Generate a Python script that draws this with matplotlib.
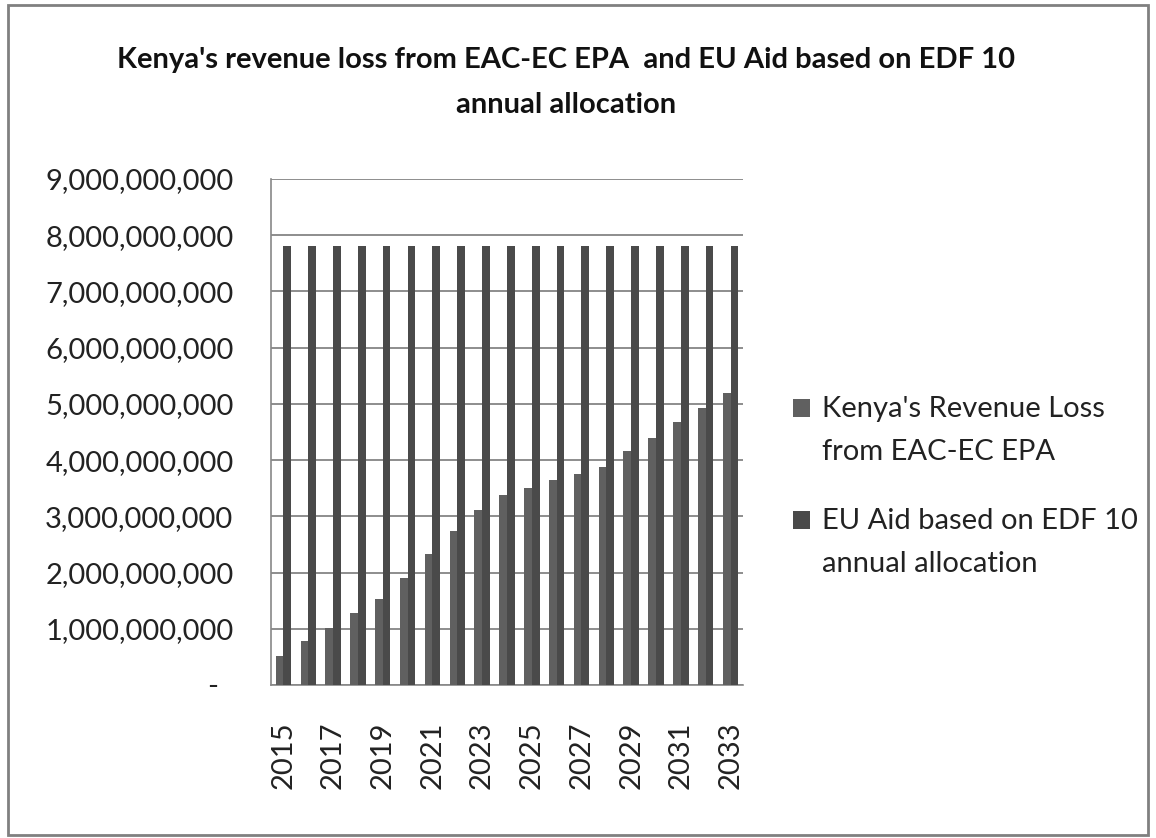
import matplotlib.pyplot as plt
from matplotlib.patches import Rectangle
from matplotlib.ticker import FuncFormatter

# Data
years = [str(y) for y in range(2015, 2034)]
revenue_loss = [0.51e9, 0.79e9, 1.01e9, 1.28e9, 1.53e9, 1.91e9, 2.33e9, 2.74e9,
                3.11e9, 3.38e9, 3.50e9, 3.64e9, 3.75e9, 3.88e9, 4.17e9, 4.40e9,
                4.68e9, 4.92e9, 5.20e9]
eu_aid = [7.8e9] * 19

loss_label = "Kenya's Revenue Loss\nfrom EAC-EC EPA"
aid_label = "EU Aid based on EDF 10\nannual allocation"
title = "Kenya's revenue loss from EAC-EC EPA  and EU Aid based on EDF 10\nannual allocation"
loss_color = "#606060"
aid_color = "#4a4a4a"

plt.rcParams['font.family'] = ['Lato', 'DejaVu Sans']

fig = plt.figure(figsize=(11.56, 8.38), dpi=100)
ax = fig.add_axes([0.2344, 0.1826, 0.4083, 0.6038])

x = list(range(len(years)))
w = 0.31
ax.bar([i - w / 2 for i in x], revenue_loss, width=w, color=loss_color, zorder=3)
ax.bar([i + w / 2 for i in x], eu_aid, width=w, color=aid_color, zorder=3)

ax.set_xlim(-0.5, len(years) - 0.5)
ax.set_ylim(0, 9e9)
ax.set_yticks([i * 1e9 for i in range(10)])


def fmt(v, pos):
    if v == 0:
        return "-  "
    return f"{v:,.0f}"


ax.yaxis.set_major_formatter(FuncFormatter(fmt))
ax.set_xticks(x[::2])
ax.set_xticklabels(years[::2], rotation=90, fontsize=21, color="#222222")
ax.tick_params(axis="y", length=0, pad=27, labelsize=21, labelcolor="#222222")
ax.tick_params(axis="x", length=0, pad=26)

ax.grid(axis="y", color="#7a7a7a", linewidth=1.2, zorder=0)
for s in ["top", "right"]:
    ax.spines[s].set_visible(False)
for s in ["left", "bottom"]:
    ax.spines[s].set_color("#888888")
    ax.spines[s].set_linewidth(1.2)

# legend on the right, square next to the first line of each label
legend_items = [(loss_label, loss_color, 0.5024, 0.4863),
                (aid_label, aid_color, 0.3687, 0.3526)]
for label, color, sq_y, txt_y in legend_items:
    fig.patches.append(Rectangle((0.686, sq_y), 0.0147, 0.0215, transform=fig.transFigure,
                                 facecolor=color, edgecolor="none"))
    fig.text(0.711, txt_y, label, ha="left", va="center", fontsize=21,
             linespacing=1.8, color="#222222")

fig.text(0.49, 0.902, title, ha="center", va="center", fontsize=21, fontweight="bold",
         linespacing=1.9, color="#111111")

# outer chart frame
fig.patches.append(Rectangle((0.007, 0.003), 0.986, 0.991, transform=fig.transFigure,
                             fill=False, edgecolor="#808080", linewidth=2))

fig.savefig("out.png", dpi=100)
